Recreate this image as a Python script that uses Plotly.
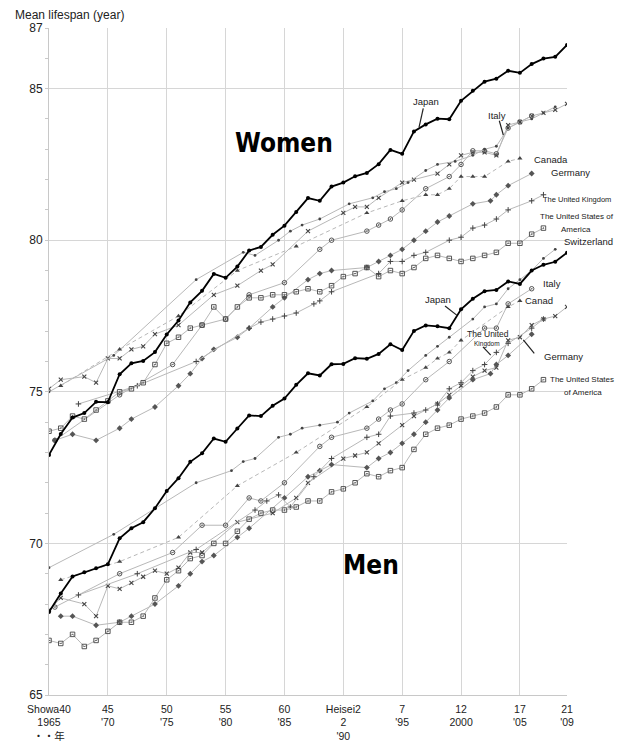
import plotly.graph_objects as go

# ---------------- data ----------------
jp_years = list(range(1965, 2010))
jp_women = [72.92, 73.61, 74.15, 74.30, 74.67, 74.66, 75.58, 75.94, 76.02, 76.31,
            76.89, 77.35, 77.95, 78.33, 78.89, 78.76, 79.13, 79.66, 79.78, 80.18,
            80.48, 80.93, 81.39, 81.30, 81.77, 81.90, 82.11, 82.22, 82.51, 82.98,
            82.85, 83.59, 83.82, 84.01, 83.99, 84.60, 84.93, 85.23, 85.33, 85.59,
            85.52, 85.81, 85.99, 86.05, 86.44]
jp_men = [67.74, 68.35, 68.91, 69.05, 69.18, 69.31, 70.17, 70.50, 70.70, 71.16,
          71.73, 72.15, 72.69, 72.97, 73.46, 73.35, 73.79, 74.22, 74.20, 74.54,
          74.78, 75.23, 75.61, 75.54, 75.91, 75.92, 76.11, 76.09, 76.25, 76.57,
          76.38, 77.01, 77.19, 77.16, 77.10, 77.72, 78.07, 78.32, 78.36, 78.64,
          78.56, 79.00, 79.19, 79.29, 79.59]

fr_w_years = [1965, 1966, 1968, 1969, 1970, 1971, 1972, 1973, 1974, 1976, 1979, 1981, 1983, 1984, 1987,
              1990, 1991, 1992, 1993, 1995, 1996, 1998, 1999, 2000, 2001, 2002, 2003, 2004, 2005, 2006,
              2007, 2008, 2009]
fr_w = [75.1, 75.4, 75.5, 75.3, 76.1, 76.1, 76.4, 76.5, 76.9, 77.2, 78.2, 78.5, 79.0, 79.2, 80.3,
        80.9, 81.1, 81.1, 81.4, 81.9, 82.0, 82.2, 82.5, 82.8, 82.9, 82.9, 82.8, 83.8, 83.9, 84.1,
        84.2, 84.3, 84.5]

it_w_years = [1965.5, 1971, 1975.5, 1978, 1980, 1982, 1985, 1988, 1989, 1992, 1993, 1994, 1995, 1997,
              1999, 2000, 2001, 2002, 2003, 2004, 2005, 2006]
it_w = [73.4, 74.9, 75.9, 77.2, 77.4, 78.2, 78.6, 79.7, 80.0, 80.3, 80.5, 80.7, 81.0, 81.7,
        82.1, 82.5, 82.95, 82.95, 82.85, 83.7, 83.9, 84.1]

ca_w_years = [1966, 1971, 1976, 1981, 1986, 1992, 1995, 1997, 1998, 1999, 2000, 2001, 2002, 2004, 2005]
ca_w = [75.2, 76.4, 77.5, 79.0, 79.8, 80.9, 81.3, 81.5, 81.5, 81.7, 82.1, 82.1, 82.1, 82.6, 82.7]

de_w_years = [1965.5, 1967, 1969, 1971, 1972, 1974, 1976, 1977, 1978, 1979, 1981, 1982, 1984, 1985, 1987,
              1988, 1989, 1992, 1993, 1994, 1995, 1996, 1997, 1998, 1999, 2001, 2002.5, 2003, 2004, 2006]
de_w = [73.4, 73.6, 73.4, 73.8, 74.1, 74.5, 75.2, 75.6, 76.1, 76.4, 76.8, 77.1, 77.8, 78.1, 78.7,
        78.9, 79.0, 79.1, 79.3, 79.5, 79.7, 80.0, 80.3, 80.6, 80.8, 81.2, 81.3, 81.5, 81.8, 82.2]

uk_w_years = [1967.5, 1972.5, 1977.5, 1982, 1983, 1984, 1985, 1986, 1987.5, 1988, 1989, 1993, 1994, 1995,
              1996, 1997, 1999, 2000, 2001, 2002, 2003, 2004, 2006, 2007]
uk_w = [74.6, 75.2, 76.0, 77.1, 77.3, 77.4, 77.5, 77.6, 77.9, 78.0, 78.3, 78.9, 79.3, 79.3,
        79.5, 79.6, 80.0, 80.1, 80.4, 80.5, 80.7, 81.0, 81.3, 81.5]

us_years = list(range(1965, 2008))
us_w = [73.7, 73.8, 74.2, 74.1, 74.4, 74.7, 75.0, 75.1, 75.3, 75.9,
        76.6, 76.8, 77.1, 77.2, 77.8, 77.4, 77.8, 78.1, 78.1, 78.2,
        78.2, 78.3, 78.4, 78.3, 78.5, 78.8, 78.9, 79.1, 78.8, 79.0,
        78.9, 79.1, 79.4, 79.5, 79.4, 79.3, 79.4, 79.5, 79.6, 79.9,
        79.9, 80.2, 80.4]

ch_w_years = [1965, 1970.5, 1977.5, 1981.5, 1982.5, 1984.5, 1985.5, 1986.5, 1988, 1990.5, 1992.5, 1993.5,
              1994.5, 1995.5, 1997, 1998, 1999.5, 2001, 2002, 2003, 2004, 2005, 2006, 2007, 2008]
ch_w = [75.0, 76.2, 78.7, 79.6, 79.5, 80.0, 80.3, 80.5, 80.7, 81.2, 81.4, 81.6,
        81.7, 81.9, 82.3, 82.5, 82.6, 82.8, 83.0, 83.1, 83.7, 83.9, 84.0, 84.2, 84.4]

fr_m_years = [1965, 1966, 1968, 1969, 1970, 1971, 1972, 1973, 1974, 1975, 1976, 1977, 1978, 1981, 1984,
              1986, 1987, 1990, 1991, 1992, 1993, 1995, 1996, 1998, 1999, 2000, 2001, 2002, 2003, 2004,
              2005, 2006, 2007, 2008, 2009]
fr_m = [67.8, 68.2, 68.0, 67.6, 68.6, 68.5, 68.7, 68.9, 69.1, 69.0, 69.2, 69.7, 69.7, 70.7, 71.0,
        71.5, 72.0, 72.8, 72.9, 73.0, 73.3, 73.9, 74.2, 74.6, 74.9, 75.2, 75.5, 75.7, 75.8, 76.7,
        76.8, 77.2, 77.4, 77.5, 77.8]

it_m_years = [1965.5, 1971, 1975.5, 1978, 1980, 1982, 1983, 1985, 1988, 1989, 1992, 1993, 1994, 1995,
              1997, 1999, 2002, 2003, 2004, 2006]
it_m = [67.9, 69.0, 69.7, 70.6, 70.6, 71.5, 71.4, 72.0, 73.2, 73.5, 73.8, 74.1, 74.4, 74.6,
        75.4, 76.0, 77.1, 77.1, 77.9, 78.4]

ca_m_years = [1966, 1971, 1976, 1981, 1986, 1992, 1995, 1997, 1998, 1999, 2000, 2004, 2005]
ca_m = [68.8, 69.4, 70.2, 71.9, 73.0, 74.5, 75.4, 75.8, 76.1, 76.3, 76.7, 77.8, 78.0]

de_m_years = [1966, 1967, 1969, 1971, 1972, 1974, 1976, 1977, 1978, 1979, 1981, 1982, 1985, 1987,
              1988, 1989, 1992, 1993, 1994, 1995, 1996, 1997, 1998, 1999, 2001, 2002.5, 2003, 2004, 2006]
de_m = [67.6, 67.6, 67.3, 67.4, 67.6, 68.0, 68.6, 69.0, 69.4, 69.6, 70.2, 70.5, 71.5, 72.2,
        72.4, 72.6, 72.5, 72.8, 73.0, 73.3, 73.6, 74.0, 74.4, 74.8, 75.4, 75.6, 75.9, 76.2, 76.9]

us_m = [66.8, 66.7, 67.0, 66.6, 66.8, 67.1, 67.4, 67.4, 67.6, 68.2,
        68.8, 69.1, 69.5, 69.6, 70.0, 70.0, 70.4, 70.8, 71.0, 71.1,
        71.1, 71.2, 71.4, 71.4, 71.7, 71.8, 72.0, 72.3, 72.2, 72.4,
        72.5, 73.1, 73.6, 73.8, 73.9, 74.1, 74.2, 74.3, 74.5, 74.9,
        74.9, 75.1, 75.4]

uk_m_years = [1967.5, 1972.5, 1977.5, 1982.5, 1983.5, 1984.5, 1985.5, 1987.5, 1989, 1992, 1993, 1994,
              1996, 1997, 1998, 1999, 2000, 2001, 2002, 2003, 2004, 2006, 2007]
uk_m = [68.3, 69.0, 69.8, 71.1, 71.4, 71.6, 71.2, 72.2, 72.8, 73.5, 73.6, 74.2,
        74.3, 74.4, 74.6, 75.1, 75.3, 75.7, 75.9, 76.3, 76.6, 77.1, 77.4]

ch_m_years = [1965, 1970.5, 1977.5, 1980.5, 1981.5, 1982.5, 1984.5, 1985.5, 1986.5, 1988, 1989.5, 1990.5,
              1992.5, 1993.5, 1994.5, 1995.5, 1997, 1998, 1999, 2001, 2002, 2003, 2004, 2005, 2006,
              2007, 2008]
ch_m = [69.2, 70.3, 72.0, 72.4, 72.7, 72.8, 73.5, 73.6, 73.8, 73.9, 74.0, 74.3,
        74.7, 75.1, 75.3, 75.7, 76.2, 76.5, 76.8, 77.4, 77.8, 77.9, 78.4, 78.7, 79.0,
        79.4, 79.7]

x_tickvals = [1965, 1970, 1975, 1980, 1985, 1990, 1995, 2000, 2005, 2009]
x_ticktext = ["Showa40<br>1965<br>・・年", "45<br>'70", "50<br>'75", "55<br>'80", "60<br>'85",
              "Heisei2<br>2<br>'90", "7<br>'95", "12<br>2000", "17<br>'05", "21<br>'09"]
y_tickvals = [65, 70, 75, 80, 85, 87]

# ---------------- styles ----------------
LINE = "#b8b8b8"
MK = "#444444"
FONT = "Liberation Sans, Arial, Noto Sans CJK JP, sans-serif"

styles = {
    "fr": dict(symbol="x-thin", size=4, line=dict(width=1.1, color=MK), color=MK),
    "it": dict(symbol="circle-open-dot", size=4.5, line=dict(width=0.9, color=MK), color=MK),
    "ca": dict(symbol="triangle-up", size=4.5, color=MK),
    "de": dict(symbol="diamond", size=4.5, color="#555"),
    "uk": dict(symbol="cross-thin", size=4, line=dict(width=1, color=MK), color=MK),
    "us": dict(symbol="square-open-dot", size=4.5, line=dict(width=0.9, color=MK), color=MK),
    "ch": dict(symbol="circle", size=2.8, color=MK),
}

fig = go.Figure()


def add(xs, ys, key, dash="solid"):
    fig.add_trace(go.Scatter(x=xs, y=ys, mode="lines+markers",
                             line=dict(color=LINE, width=1, dash=dash),
                             marker=styles[key], showlegend=False, hoverinfo="skip"))


for xs, ys, k in [(fr_w_years, fr_w, "fr"), (it_w_years, it_w, "it"), (de_w_years, de_w, "de"),
                  (uk_w_years, uk_w, "uk"), (us_years, us_w, "us"), (ch_w_years, ch_w, "ch"),
                  (fr_m_years, fr_m, "fr"), (it_m_years, it_m, "it"), (de_m_years, de_m, "de"),
                  (uk_m_years, uk_m, "uk"), (us_years, us_m, "us"), (ch_m_years, ch_m, "ch")]:
    add(xs, ys, k)
add(ca_w_years, ca_w, "ca", dash="4px,3px")
add(ca_m_years, ca_m, "ca", dash="4px,3px")

for ys in (jp_women, jp_men):
    fig.add_trace(go.Scatter(x=jp_years, y=ys, mode="lines+markers",
                             line=dict(color="black", width=1.8),
                             marker=dict(symbol="circle", size=4, color="black"),
                             showlegend=False, hoverinfo="skip"))

# ---------------- labels ----------------
ann = []


def label(x, y, text, size=10, xanchor="left"):
    ann.append(dict(x=x, y=y, xref="x", yref="y", text=text, showarrow=False,
                    xanchor=xanchor, yanchor="middle",
                    font=dict(size=size, color="#222", family=FONT)))


label(1997.0, 84.59, "Japan", size=9.5, xanchor="center")
label(2003.05, 84.10, "Italy", size=9.5, xanchor="center")
label(2009.5, 84.55, "France", size=9.5)
label(2006.0, 82.65, "Canada", size=9.5)
label(2007.45, 82.22, "Germany", size=9.5)
label(2006.8, 81.33, "The United Kingdom", size=7.5)
label(2006.55, 80.77, "The United States of", size=8)
label(2008.3, 80.37, "America", size=8)
label(2008.6, 79.97, "Switzerland", size=9.5)

label(2006.76, 78.56, "Italy", size=9.5)
label(1998.04, 78.03, "Japan", size=9.5, xanchor="center")
label(2005.26, 78.0, "Canad", size=9.5)
label(2009.68, 77.8, "France", size=9.5)
label(2002.29, 76.91, "The United", size=8.5, xanchor="center")
label(2002.2, 76.58, "Kingdom", size=6.5, xanchor="center")
label(2006.85, 76.18, "Germany", size=9.5)
label(2007.36, 75.39, "The United States", size=8)
label(2008.57, 74.99, "of America", size=8)

BIG = "Liberation Sans Narrow, DejaVu Sans Condensed, Liberation Sans"
ann.append(dict(x=1984.96, y=83.21, xref="x", yref="y", text="<b>Women</b>", showarrow=False,
                font=dict(size=26, color="black", family=BIG)))
ann.append(dict(x=1992.35, y=69.29, xref="x", yref="y", text="<b>Men</b>", showarrow=False,
                font=dict(size=26, color="black", family=BIG)))
ann.append(dict(x=-0.07, y=1.02, xref="paper", yref="paper", text="Mean lifespan (year)",
                showarrow=False, xanchor="left", yanchor="middle",
                font=dict(size=12, color="#222", family=FONT)))

pointers = [
    ((1996.79, 84.35), (1996.43, 83.72)),
    ((2003.25, 83.94), (2003.59, 83.47)),
    ((1998.64, 77.83), (1999.63, 77.53)),
    ((2001.86, 76.48), (2002.52, 76.21)),
    ((2005.29, 76.71), (2006.22, 76.27)),
]
shapes = [dict(type="line", xref="x", yref="y", x0=a[0], y0=a[1], x1=b[0], y1=b[1],
               line=dict(color="#222", width=1.2)) for a, b in pointers]

# the page body adds an 8px offset, so the figure is 8px smaller and margins compensate
fig.update_layout(
    width=616, height=734,
    margin=dict(l=41, r=57, t=20, b=47, autoexpand=False),
    paper_bgcolor="white", plot_bgcolor="white",
    font=dict(family=FONT, size=11, color="#222"),
    annotations=ann, shapes=shapes,
    xaxis=dict(range=[1965, 2009], tickvals=x_tickvals, ticktext=x_ticktext,
               showgrid=True, gridcolor="#d6d6d6", gridwidth=1, automargin=False,
               showline=True, linecolor="#c8c8c8", zeroline=False,
               ticks="outside", ticklen=4, tickcolor="rgba(0,0,0,0)",
               tickfont=dict(size=10.5), tickangle=0),
    yaxis=dict(range=[65, 87], tickvals=y_tickvals, showgrid=True, gridcolor="#d6d6d6",
               showline=True, linecolor="#c8c8c8", zeroline=False, automargin=False,
               ticks="outside", ticklen=3, tickcolor="#c8c8c8",
               minor=dict(dtick=1, tick0=65, ticks="outside", ticklen=3, tickcolor="#c8c8c8",
                          showgrid=False),
               tickfont=dict(size=12)),
)

fig.write_html("out.html")
